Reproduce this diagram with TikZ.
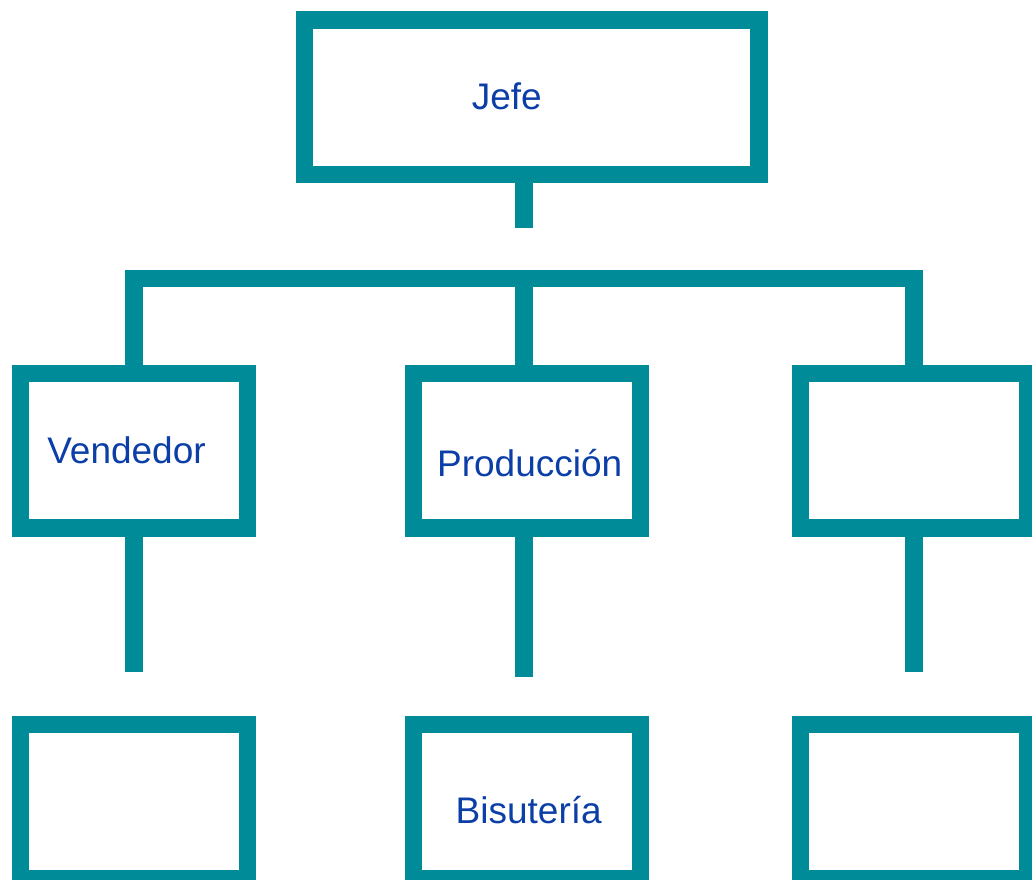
\documentclass[tikz,border=0pt]{standalone}
\usepackage{fontspec}
\setmainfont{Liberation Sans}
\usetikzlibrary{positioning,calc}
\definecolor{teal1}{RGB}{0,139,153}
\definecolor{ink}{RGB}{12,62,168}

\begin{document}
\begin{tikzpicture}[
	x=1pt, y=-1pt,
	box/.style={draw=teal1, line width=17.5pt, rectangle, inner sep=0pt,
		minimum width=227pt, minimum height=154.5pt},
	top box/.style={box, minimum width=454.5pt},
	link/.style={draw=teal1, line width=17.5pt},
	lbl/.style={color=ink, font=\fontsize{37}{40}\selectfont, anchor=base, inner sep=0pt}
	]
	\useasboundingbox (0,0) rectangle (1032,879);
	\clip (0,0) rectangle (1032,879);
	% boxes
	\node[top box] (jefe) at (531.5,97) {};
	\node[box] (vend) at (133.8,450.5) {};
	\node[box] (prod) at (527.1,450.5) {};
	\node[box] (otro) at (914,450.5) {};
	\node[box] (vendb) at (133.8,801.5) {};
	\node[box] (bisu) at (527.1,801.5) {};
	\node[box] (otrob) at (914,801.5) {};
	% texts
	\node[lbl] (tjefe) at (506.8,109.3) {Jefe};
	\node[lbl] (tvend) at (126.5,463.3) {Vendedor};
	\node[lbl] (tprod) at (529.7,476) {Producción};
	\node[lbl] (tbisu) at (528.7,823.3) {Bisutería};
	% links
	\coordinate (stub) at (524,227.7);
	\coordinate (hub) at (524,278.7);
	\draw[link] (jefe.south -| stub) -- (stub);
	\draw[link] (vend.north) -- (vend.north |- hub) -- (otro.north |- hub) -- (otro.north);
	\draw[link] (hub) -- (hub |- prod.north);
	\coordinate (vendend) at (133.8,671.7);
	\coordinate (prodend) at (524,677);
	\coordinate (otroend) at (913.8,671.7);
	\draw[link] (vend.south) -- (vendend);
	\draw[link] (prod.south -| prodend) -- (prodend);
	\draw[link] (otro.south -| otroend) -- (otroend);
\end{tikzpicture}
\end{document}
